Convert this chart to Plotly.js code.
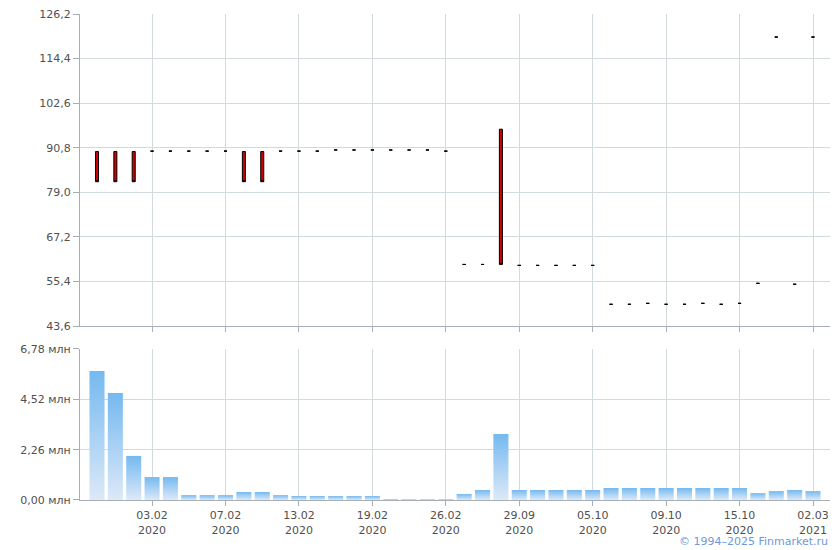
<!DOCTYPE html>
<html>
<head>
<meta charset="utf-8">
<script src="https://cdn.plot.ly/plotly-3.0.1.min.js"></script>
<style>
  html, body { margin: 0; padding: 0; background: #ffffff; }
  #chart { width: 840px; height: 550px; }
</style>
</head>
<body>
<div id="chart"></div>
<script>
// Trading days (category axis)
const dates = [
  "29.01.2020", "30.01.2020", "31.01.2020", "03.02.2020", "04.02.2020",
  "05.02.2020", "06.02.2020", "07.02.2020", "10.02.2020", "11.02.2020",
  "12.02.2020", "13.02.2020", "14.02.2020", "17.02.2020", "18.02.2020",
  "19.02.2020", "20.02.2020", "21.02.2020", "25.02.2020", "26.02.2020",
  "24.09.2020", "25.09.2020", "28.09.2020", "29.09.2020", "30.09.2020",
  "01.10.2020", "02.10.2020", "05.10.2020", "06.10.2020", "07.10.2020",
  "08.10.2020", "09.10.2020", "12.10.2020", "13.10.2020", "14.10.2020",
  "15.10.2020", "16.10.2020", "19.10.2020", "20.10.2020", "02.03.2021"
];

// Prices
const openPrice = [
  89.8, 89.8, 89.8, 89.9, 89.9, 89.9, 89.9, 89.9, 89.8, 89.8,
  89.9, 89.9, 89.9, 90.2, 90.2, 90.2, 90.2, 90.2, 90.2, 89.9,
  59.9, 59.9, 95.7, 59.65, 59.65, 59.65, 59.65, 59.65, 49.35, 49.35,
  49.6, 49.35, 49.35, 49.6, 49.35, 49.6, 54.9, 120.1, 54.65, 120.1
];
const highPrice = [
  89.8, 89.8, 89.8, 89.9, 89.9, 89.9, 89.9, 89.9, 89.8, 89.8,
  89.9, 89.9, 89.9, 90.2, 90.2, 90.2, 90.2, 90.2, 90.2, 89.9,
  59.9, 59.9, 95.7, 59.65, 59.65, 59.65, 59.65, 59.65, 49.35, 49.35,
  49.6, 49.35, 49.35, 49.6, 49.35, 49.6, 54.9, 120.1, 54.65, 120.1
];
const lowPrice = [
  81.8, 81.8, 81.8, 89.9, 89.9, 89.9, 89.9, 89.9, 81.8, 81.8,
  89.9, 89.9, 89.9, 90.2, 90.2, 90.2, 90.2, 90.2, 90.2, 89.9,
  59.9, 59.9, 59.9, 59.65, 59.65, 59.65, 59.65, 59.65, 49.35, 49.35,
  49.6, 49.35, 49.35, 49.6, 49.35, 49.6, 54.9, 120.1, 54.65, 120.1
];
const closePrice = [
  81.8, 81.8, 81.8, 89.9, 89.9, 89.9, 89.9, 89.9, 81.8, 81.8,
  89.9, 89.9, 89.9, 90.2, 90.2, 90.2, 90.2, 90.2, 90.2, 89.9,
  59.9, 59.9, 59.9, 59.65, 59.65, 59.65, 59.65, 59.65, 49.35, 49.35,
  49.6, 49.35, 49.35, 49.6, 49.35, 49.6, 54.9, 120.1, 54.65, 120.1
];

// Volume, millions
const volumeMln = [
  5.79, 4.80, 1.98, 1.03, 1.03, 0.22, 0.22, 0.22, 0.36, 0.36,
  0.22, 0.18, 0.18, 0.18, 0.18, 0.18, 0.04, 0.03, 0.03, 0.03,
  0.27, 0.45, 2.96, 0.45, 0.45, 0.45, 0.45, 0.45, 0.54, 0.54,
  0.54, 0.54, 0.54, 0.54, 0.54, 0.54, 0.31, 0.40, 0.45, 0.40
];

// Axis ticks
const xTickVals = ["03.02.2020", "07.02.2020", "13.02.2020", "19.02.2020", "26.02.2020",
                   "29.09.2020", "05.10.2020", "09.10.2020", "15.10.2020", "02.03.2021"];
const xTickText = ["03.02<br>2020", "07.02<br>2020", "13.02<br>2020", "19.02<br>2020", "26.02<br>2020",
                   "29.09<br>2020", "05.10<br>2020", "09.10<br>2020", "15.10<br>2020", "02.03<br>2021"];
const priceTickVals = [43.6, 55.4, 67.2, 79.0, 90.8, 102.6, 114.4, 126.2];
const priceTickText = ["43,6", "55,4", "67,2", "79,0", "90,8", "102,6", "114,4", "126,2"];
const volTickVals = [0, 2.26, 4.52, 6.78];
const volTickText = ["0,00 млн", "2,26 млн", "4,52 млн", "6,78 млн"];

const gridColor = "#d3dadd";
const axisColor = "#a7aeb6";
const textColor = "#505050";
const font = { family: "DejaVu Sans, Verdana, sans-serif", size: 11, color: textColor };

const candle = {
  type: "candlestick",
  x: dates, open: openPrice, high: highPrice, low: lowPrice, close: closePrice,
  xaxis: "x2", yaxis: "y2",
  whiskerwidth: 0,
  increasing: { line: { color: "#000000", width: 1 }, fillcolor: "#d10000" },
  decreasing: { line: { color: "#000000", width: 1 }, fillcolor: "#d10000" },
  hoverinfo: "skip",
  showlegend: false
};

const volume = {
  type: "bar",
  x: dates, y: volumeMln,
  xaxis: "x", yaxis: "y",
  marker: { color: "#a6d0f4", line: { width: 0 } },
  hoverinfo: "skip",
  showlegend: false
};

const xRange = [-0.926, 39.926];

const layout = {
  width: 840, height: 550,
  margin: { l: 80, r: 10, t: 14, b: 50 },
  paper_bgcolor: "#ffffff",
  plot_bgcolor: "#ffffff",
  font: font,
  separators: ", ",
  showlegend: false,
  bargap: 0.18,
  boxgap: 0.67,
  boxgroupgap: 0.5,
  xaxis: {
    type: "category", range: xRange, anchor: "y",
    tickmode: "array", tickvals: xTickVals, ticktext: xTickText,
    showgrid: true, gridcolor: gridColor, gridwidth: 1,
    showline: true, linecolor: axisColor, linewidth: 1,
    ticks: "outside", ticklen: 5, tickcolor: axisColor,
    tickfont: font, zeroline: false, fixedrange: true
  },
  xaxis2: {
    type: "category", range: xRange, anchor: "y2", matches: "x",
    tickmode: "array", tickvals: xTickVals, ticktext: xTickText,
    showticklabels: false,
    showgrid: true, gridcolor: gridColor, gridwidth: 1,
    showline: true, linecolor: axisColor, linewidth: 1,
    ticks: "outside", ticklen: 5, tickcolor: axisColor,
    rangeslider: { visible: false },
    zeroline: false, fixedrange: true
  },
  yaxis: {
    domain: [0, 0.3107], range: [0, 6.78], anchor: "x",
    tickmode: "array", tickvals: volTickVals, ticktext: volTickText,
    showgrid: true, gridcolor: gridColor,
    showline: true, linecolor: axisColor,
    ticks: "outside", ticklen: 6, tickcolor: axisColor,
    tickfont: font, zeroline: false, fixedrange: true
  },
  yaxis2: {
    domain: [0.358, 1], range: [43.6, 126.2], anchor: "x2",
    tickmode: "array", tickvals: priceTickVals, ticktext: priceTickText,
    showgrid: true, gridcolor: gridColor,
    showline: true, linecolor: axisColor,
    ticks: "outside", ticklen: 6, tickcolor: axisColor,
    tickfont: font, zeroline: false, fixedrange: true
  },
  annotations: [{
    xref: "paper", yref: "paper", x: 1, y: -0.0864,
    xanchor: "right", yanchor: "middle", showarrow: false,
    text: "© 1994–2025 Finmarket.ru",
    font: { family: "DejaVu Sans, Verdana, sans-serif", size: 11, color: "#7098dc" }
  }]
};

Plotly.newPlot("chart", [volume, candle], layout, { displayModeBar: false, staticPlot: true }).then(function (gd) {
  // vertical gradient fill for volume bars
  const svg = gd.querySelector("svg.main-svg");
  const ns = "http://www.w3.org/2000/svg";
  let defs = svg.querySelector("defs");
  if (!defs) { defs = document.createElementNS(ns, "defs"); svg.insertBefore(defs, svg.firstChild); }
  const grad = document.createElementNS(ns, "linearGradient");
  grad.setAttribute("id", "volgrad");
  grad.setAttribute("x1", "0"); grad.setAttribute("y1", "0");
  grad.setAttribute("x2", "0"); grad.setAttribute("y2", "1");
  const s1 = document.createElementNS(ns, "stop");
  s1.setAttribute("offset", "0"); s1.setAttribute("stop-color", "#74b9f0");
  const s2 = document.createElementNS(ns, "stop");
  s2.setAttribute("offset", "1"); s2.setAttribute("stop-color", "#dde9f8");
  grad.appendChild(s1); grad.appendChild(s2);
  defs.appendChild(grad);
  gd.querySelectorAll(".barlayer .point path").forEach(function (p) {
    p.style.fill = "url(#volgrad)";
  });
});
</script>
</body>
</html>
